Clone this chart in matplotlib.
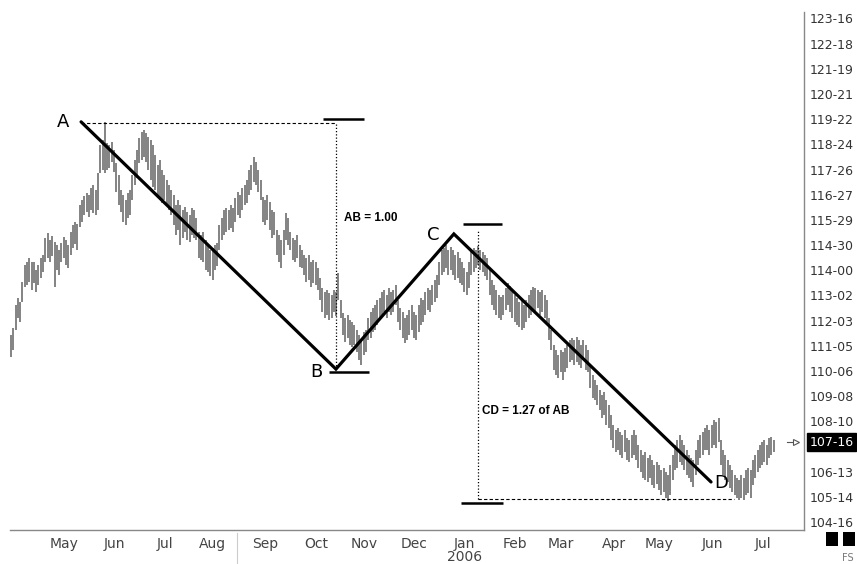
import matplotlib
matplotlib.use("Agg")
import matplotlib.pyplot as plt
import matplotlib.transforms as mtransforms
from matplotlib.patches import Rectangle
from matplotlib.lines import Line2D
import numpy as np
import pandas as pd

# daily bars, T-bond futures, Apr 2005 - Jul 2006
start_date = "2005-04-01"
highs = [
    111.56, 111.82, 112.69, 112.95, 112.80, 113.56, 114.20, 114.31, 114.46, 114.31,
    114.31, 114.01, 114.20, 114.46, 114.58, 115.22, 115.41, 115.14, 115.29, 115.07,
    114.95, 114.76, 115.03, 115.26, 115.14, 114.95, 115.44, 115.71, 115.82, 115.75,
    116.46, 116.65, 116.80, 116.92, 116.84, 117.11, 117.22, 117.03, 117.67, 118.73,
    118.92, 119.60, 118.80, 118.73, 118.84, 118.54, 118.05, 117.60, 117.03, 116.84,
    116.65, 116.92, 117.03, 117.60, 118.16, 118.54, 118.99, 119.22, 119.29, 119.18,
    119.03, 118.92, 118.73, 118.35, 117.97, 118.16, 117.78, 117.60, 117.41, 117.22,
    117.03, 116.84, 116.46, 116.65, 116.46, 116.27, 116.39, 116.20, 116.09, 116.35,
    116.27, 115.97, 115.44, 115.33, 115.44, 115.14, 114.95, 114.76, 114.84, 114.95,
    115.03, 115.71, 115.97, 116.27, 116.35, 116.27, 116.46, 116.35, 116.73, 116.95,
    116.84, 117.11, 117.22, 117.41, 117.78, 117.97, 118.28, 118.09, 117.78, 117.41,
    116.77, 116.65, 116.84, 116.58, 116.27, 116.20, 115.52, 115.33, 115.14, 115.52,
    116.16, 115.97, 115.44, 115.22, 115.14, 115.33, 114.95, 114.76, 114.58, 114.46,
    114.58, 114.31, 114.39, 114.31, 114.09, 113.71, 113.33, 113.18, 113.25, 113.14,
    113.07, 113.25, 113.18, 113.90, 112.88, 112.39, 112.20, 112.31, 112.12, 112.05,
    111.93, 111.75, 111.56, 111.37, 111.67, 111.75, 112.20, 112.42, 112.58, 112.69,
    112.88, 112.95, 113.18, 113.25, 113.07, 113.33, 113.18, 113.25, 113.44, 112.88,
    112.58, 112.42, 112.20, 112.31, 112.50, 112.69, 112.42, 112.31, 112.69, 112.95,
    112.88, 113.18, 113.33, 113.25, 113.44, 113.63, 113.82, 114.31, 114.76, 114.84,
    114.95, 114.76, 114.88, 114.76, 114.58, 114.69, 114.46, 114.31, 114.09, 113.93,
    114.31, 114.76, 114.84, 114.76, 114.92, 114.76, 114.69, 114.58, 114.46, 114.01,
    113.63, 113.44, 113.25, 113.07, 112.99, 113.07, 113.33, 113.52, 113.41, 113.25,
    113.07, 112.95, 112.80, 112.88, 112.69, 112.88, 113.07, 113.25, 113.37, 113.33,
    113.25, 113.18, 113.25, 113.07, 112.88, 112.20, 111.75, 111.18, 110.99, 110.80,
    110.99, 110.92, 111.07, 111.18, 111.37, 111.44, 111.37, 111.48, 111.37, 111.18,
    111.37, 111.18, 110.99, 110.42, 110.05, 109.86, 109.67, 109.48, 109.29, 109.41,
    109.10, 108.92, 108.54, 108.16, 107.97, 108.05, 107.90, 107.78, 107.97, 107.67,
    107.59, 107.78, 107.97, 107.78, 107.41, 107.22, 107.03, 107.14, 106.92, 107.03,
    106.84, 106.65, 106.76, 106.65, 106.46, 106.54, 106.39, 106.27, 106.65, 107.03,
    107.41, 107.59, 107.78, 107.59, 107.41, 107.22, 107.03, 106.92, 106.84, 107.22,
    107.59, 107.78, 107.90, 108.05, 108.16, 107.97, 108.16, 108.35, 108.27, 108.42,
    107.59, 107.22, 107.03, 106.84, 106.65, 106.46, 106.27, 106.16, 106.08, 106.27,
    106.16, 106.46, 106.54, 106.46, 106.84, 107.03, 107.22, 107.41, 107.52, 107.59,
    107.41, 107.67, 107.71, 107.59,
]
lows = [
    110.72, 110.99, 111.75, 112.20, 112.05, 112.80, 113.37, 113.44, 113.56, 113.25,
    113.52, 113.18, 113.44, 113.71, 113.93, 114.31, 114.46, 114.31, 114.54, 113.37,
    114.01, 113.82, 114.31, 114.46, 114.20, 114.09, 114.58, 114.84, 114.99, 114.76,
    115.63, 115.82, 116.09, 116.20, 116.01, 116.27, 116.16, 116.09, 116.27, 117.67,
    117.78, 117.67, 117.78, 117.86, 118.09, 117.71, 116.95, 116.46, 116.20, 115.82,
    115.71, 115.97, 116.09, 116.65, 117.22, 117.48, 118.05, 118.16, 118.28, 118.09,
    117.78, 117.41, 117.14, 117.03, 116.73, 116.65, 116.54, 116.65, 116.43, 116.27,
    116.09, 115.71, 115.33, 115.52, 114.95, 115.22, 115.44, 115.14, 115.07, 115.33,
    115.22, 115.14, 114.46, 114.39, 114.31, 114.01, 113.93, 113.78, 113.63, 114.01,
    114.16, 114.76, 115.14, 115.33, 115.44, 115.52, 115.60, 115.44, 115.82, 116.09,
    115.97, 116.27, 116.46, 116.54, 116.84, 117.03, 117.33, 117.22, 116.95, 116.65,
    115.82, 115.71, 115.90, 115.52, 115.22, 115.33, 114.58, 114.31, 114.09, 114.58,
    115.14, 114.95, 114.76, 114.39, 114.31, 114.46, 114.12, 114.09, 113.82, 113.56,
    113.63, 113.37, 113.52, 113.44, 113.25, 112.88, 112.42, 112.20, 112.31, 112.12,
    112.20, 112.42, 112.27, 112.88, 112.20, 111.56, 111.29, 111.44, 111.18, 111.10,
    111.18, 110.92, 110.61, 110.42, 110.80, 110.92, 111.37, 111.44, 111.67, 111.75,
    111.93, 112.20, 112.31, 112.42, 112.20, 112.42, 112.31, 112.42, 112.69, 112.05,
    111.75, 111.44, 111.26, 111.37, 111.56, 111.75, 111.44, 111.37, 111.67, 111.93,
    112.05, 112.31, 112.50, 112.42, 112.69, 112.80, 112.95, 113.44, 113.82, 113.93,
    114.09, 113.82, 114.01, 113.82, 113.63, 113.71, 113.52, 113.44, 113.18, 113.07,
    113.33, 113.82, 113.93, 114.09, 114.20, 114.01, 113.93, 113.78, 113.63, 113.07,
    112.69, 112.50, 112.31, 112.20, 112.12, 112.31, 112.50, 112.69, 112.42, 112.20,
    112.05, 111.93, 111.86, 111.75, 111.82, 112.05, 112.20, 112.31, 112.50, 112.42,
    112.58, 112.31, 112.42, 112.20, 112.05, 111.37, 110.99, 110.24, 110.05, 109.93,
    110.16, 109.86, 110.16, 110.31, 110.54, 110.61, 110.42, 110.54, 110.42, 110.31,
    110.61, 110.24, 110.16, 109.56, 109.18, 109.10, 108.92, 108.73, 108.42, 108.54,
    108.16, 108.05, 107.59, 107.29, 107.14, 107.22, 107.03, 106.92, 107.14, 106.84,
    106.76, 106.92, 107.03, 106.84, 106.54, 106.39, 106.16, 106.08, 106.01, 106.16,
    105.90, 105.78, 105.93, 105.71, 105.52, 105.63, 105.41, 105.29, 105.52, 106.08,
    106.46, 106.54, 106.76, 106.65, 106.46, 106.27, 106.16, 106.01, 105.82, 106.27,
    106.65, 106.92, 107.03, 107.22, 107.22, 107.03, 107.29, 107.41, 107.29, 107.52,
    106.65, 106.27, 106.08, 106.01, 105.78, 105.63, 105.52, 105.41, 105.33, 105.41,
    105.33, 105.52, 105.59, 105.41, 105.90, 106.16, 106.39, 106.54, 106.65, 106.76,
    106.65, 106.92, 107.03, 107.14,
]
last_price = 107.5

# ABCD pattern: bar number and price of each turning point
pattern_names = ["A", "B", "C", "D"]
pattern_bars = [30.6, 141.9, 193.4, 305.7]
pattern_prices = [119.60, 110.27, 115.37, 106.01]

# measuring marks
ab_ruler_bar, ab_top, ab_bottom = 141.9, 119.71, 110.16
cd_ruler_bar, cd_top, cd_target, cd_bottom = 203.9, 115.75, 105.37, 105.22
cd_end_bar = 315.7

dates = pd.bdate_range(start_date, periods=len(highs))
x = np.arange(len(highs))


def fmt32(v, pos=None):
    whole = int(np.floor(v + 1e-9))
    t = int(round((v - whole) * 32))
    if t == 32:
        whole, t = whole + 1, 0
    return f"{whole}-{t:02d}"


def axis_label(v, pos=None):
    # the label sitting under the last-price box is hidden
    if abs(v - last_price) < 0.4:
        return ""
    return fmt32(v)


fig = plt.figure(figsize=(8.57, 5.64), dpi=100)
ax = fig.add_axes([10 / 857, 34 / 564, 794 / 857, 518 / 564])

# price bars
ax.vlines(x, lows, highs, color="#686868", lw=1.15, zorder=2)

# pattern legs
ax.plot(pattern_bars, pattern_prices, color="black", lw=2.3,
        solid_capstyle="round", solid_joinstyle="miter", zorder=4)
offsets = [(-13, 0), (-14, -2), (-15, -1), (7, -1)]
for name, bx, py, off in zip(pattern_names, pattern_bars, pattern_prices, offsets):
    ax.annotate(name, (bx, py), xytext=off, textcoords="offset points",
                ha="center", va="center", fontsize=13, color="black", zorder=5)

dash = (0, (3, 2))
dot = (0, (1, 1.6))
# AB measure
ax.hlines(pattern_prices[0] - 0.04, pattern_bars[0], ab_ruler_bar,
          colors="black", linestyles=dash, lw=0.8)
ax.vlines(ab_ruler_bar, pattern_prices[1], pattern_prices[0],
          colors="black", linestyles=dot, lw=0.9)
ax.hlines(ab_top, 136.2, 154.1, colors="black", lw=1.8)
ax.hlines(ab_bottom, 138.9, 156.3, colors="black", lw=1.8)
ax.text(145.4, 115.97, "AB = 1.00", fontsize=8.5, fontweight="bold",
        family="Liberation Sans", ha="left", va="center")

# CD measure
ax.vlines(cd_ruler_bar, cd_target, 115.52, colors="black",
          linestyles=dot, lw=0.9)
ax.hlines(cd_target, cd_ruler_bar, cd_end_bar, colors="black",
          linestyles=dash, lw=0.8)
ax.hlines(cd_top, 197.4, 214.4, colors="black", lw=1.8)
ax.hlines(cd_bottom, 196.5, 214.8, colors="black", lw=1.8)
ax.text(205.7, 108.69, "CD = 1.27 of AB", fontsize=8.5, fontweight="bold",
        family="Liberation Sans", ha="left", va="center")

# axes
ax.set_xlim(-0.44, 346.3)
ax.set_ylim(104.198, 123.745)
ax.set_yticks(104.5 + 0.95 * np.arange(21))
ax.yaxis.set_major_formatter(plt.FuncFormatter(axis_label))
ax.yaxis.tick_right()
ax.tick_params(axis="y", length=0, pad=4, labelsize=9, labelcolor="#333333")

month_idx = [i for i in range(1, len(dates)) if dates[i].month != dates[i - 1].month]
month_lbl = [dates[i].strftime("%b") + (f"\n{dates[i].year}" if dates[i].month == 1 else "")
             for i in month_idx]
ax.set_xticks(month_idx, month_lbl)
ax.tick_params(axis="x", length=0, pad=5, labelsize=10, labelcolor="#444444")
shift = mtransforms.ScaledTranslation(5 / 100, 0, fig.dpi_scale_trans)
for lab in ax.get_xticklabels():
    lab.set_transform(lab.get_transform() + shift)
    lab.set_linespacing(0.95)

for s in ["left", "top"]:
    ax.spines[s].set_visible(False)
for s in ["right", "bottom"]:
    ax.spines[s].set_color("#888888")
    ax.spines[s].set_linewidth(1.0)

# last price marker
blend = mtransforms.blended_transform_factory(ax.transAxes, ax.transData)
ax.plot([0.978, 0.99], [last_price, last_price], transform=blend,
        color="#555555", lw=0.8, clip_on=False)
ax.plot([0.99], [last_price], transform=blend, marker=">", ms=5,
        mfc="white", mec="#555555", mew=0.8, clip_on=False)
ax.annotate(fmt32(last_price), (1.0, last_price), xycoords=blend,
            xytext=(4, 0), textcoords="offset points", ha="left", va="center",
            fontsize=9, color="white", zorder=6, annotation_clip=False,
            bbox=dict(boxstyle="square,pad=0.2", fc="black", ec="black"))

# little decorations in the corner
for x0 in (826, 843):
    fig.add_artist(Rectangle((x0 / 857, 18 / 564), 12 / 857, 14 / 564,
                             transform=fig.transFigure, fc="black", ec="none"))
fig.text(848 / 857, 6 / 564, "FS", fontsize=7, color="#777777",
         ha="center", va="center")
fig.add_artist(Line2D([237 / 857, 237 / 857], [0, 31 / 564],
                      transform=fig.transFigure, color="#cccccc", lw=0.8))

fig.savefig("out.png", dpi=100)
